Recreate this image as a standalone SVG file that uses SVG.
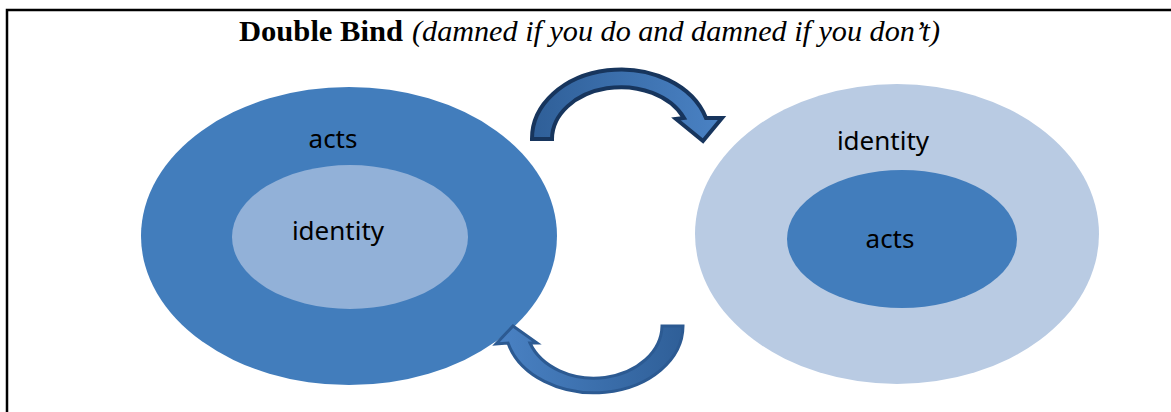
<svg xmlns="http://www.w3.org/2000/svg" width="1171" height="412" viewBox="0 0 1171 412">
<style>
.lbl{font-family:"Noto Sans","Open Sans",sans-serif;font-size:26px;fill:#000;text-anchor:middle}
.dark{fill:#427dbc}
.light{fill:#92b1d8}
.pale{fill:#b9cbe3}
</style>
<defs>
<linearGradient id="g1" x1="0" y1="0" x2="1" y2="0">
<stop offset="0" stop-color="#2f5f98"/>
<stop offset="1" stop-color="#4a82c4"/>
</linearGradient>
<linearGradient id="g2" x1="0" y1="0" x2="1" y2="0">
<stop offset="0" stop-color="#4a82c4"/>
<stop offset="1" stop-color="#2f5f98"/>
</linearGradient>
</defs>
<rect width="1171" height="412" fill="#fff"/>
<path d="M7,412 V10 H1171" fill="none" stroke="#000" stroke-width="2.5"/>
<text x="239" y="41" font-family="Liberation Serif,serif" font-size="29" font-weight="bold" textLength="164" lengthAdjust="spacingAndGlyphs">Double Bind</text>
<text x="412" y="41" font-family="Liberation Serif,serif" font-size="29" font-style="italic" textLength="528" lengthAdjust="spacingAndGlyphs">(damned if you do and damned if you don’t)</text>
<g id="left">
<ellipse class="dark" cx="349" cy="236" rx="208" ry="149"/>
<ellipse class="light" cx="350" cy="237" rx="118" ry="72"/>
<text class="lbl" x="333" y="148">acts</text>
<text class="lbl" x="338" y="240">identity</text>
</g>
<g id="right">
<ellipse class="pale" cx="897" cy="234" rx="202" ry="150"/>
<ellipse class="dark" cx="902" cy="239" rx="115" ry="69"/>
<text class="lbl" x="883" y="150">identity</text>
<text class="lbl" x="890" y="248">acts</text>
</g>
<g id="connectors">
<path d="M532,139 A89,69 0 0 1 706,118 L722,118 L703,141 L676,119 L684,118 A69,52 0 0 0 552,139 Z" fill="url(#g1)" stroke="#17355d" stroke-width="4" stroke-linejoin="miter"/>
<path d="M683,326 A89,67 0 0 1 508,343 L496,344 L513,326 L537,343 L530,343 A68,53 0 0 0 662,326 Z" fill="url(#g2)" stroke="#2c5a92" stroke-width="3" stroke-linejoin="miter"/>
</g>
</svg>
